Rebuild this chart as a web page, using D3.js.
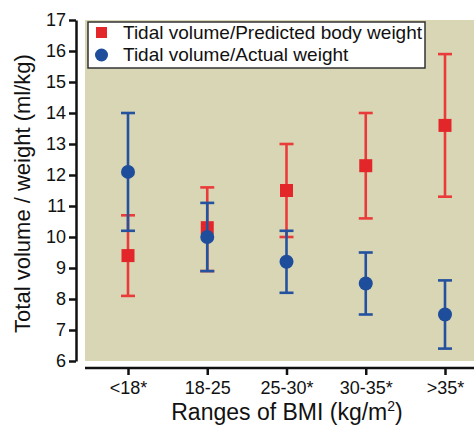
<!DOCTYPE html>
<html>
<head>
<meta charset="utf-8">
<script src="https://cdn.jsdelivr.net/npm/d3@7"></script>
<style>
  html, body { margin: 0; padding: 0; background: #fff; }
  svg { display: block; }
  text { font-family: 'Liberation Sans', Arial, sans-serif; fill: #111; }
</style>
</head>
<body>
<div id="chart"></div>
<script>
// ---- data ----
const categories = ['<18*', '18-25', '25-30*', '30-35*', '>35*'];

const predMean = [9.4, 10.3, 11.5, 12.3, 13.6];
const predLow  = [8.1, 8.9, 10.0, 10.6, 11.3];
const predHigh = [10.7, 11.6, 13.0, 14.0, 15.9];

const actMean = [12.1, 10.0, 9.2, 8.5, 7.5];
const actLow  = [10.2, 8.9, 8.2, 7.5, 6.4];
const actHigh = [14.0, 11.1, 10.2, 9.5, 8.6];

const yTicks = [6, 7, 8, 9, 10, 11, 12, 13, 14, 15, 16, 17];

const seriesNames = ['Tidal volume/Predicted body weight', 'Tidal volume/Actual weight'];

const W = 474, H = 426;
const RED = '#e3262a', RED_BAR = '#ea3b3b';
const BLUE = '#1d4d9b', BLUE_BAR = '#24529e';

const svg = d3.select('#chart').append('svg')
  .attr('width', W).attr('height', H);

const y = d3.scaleLinear().domain([6, 17]).range([361, 20]);
const x = d3.scalePoint().domain(categories).range([128, 445]);

// plot background
svg.append('rect')
  .attr('x', 85).attr('y', y(17))
  .attr('width', W - 85).attr('height', y(6) - y(17))
  .attr('fill', '#d9d6b6');

// y axis (offset to the left of the panel)
const yAxis = svg.append('g')
  .attr('transform', 'translate(76,0)')
  .call(d3.axisLeft(y).tickValues(yTicks).tickSize(7).tickSizeOuter(0).tickPadding(3));
yAxis.select('.domain').attr('stroke', '#111').attr('stroke-width', 2.5);
yAxis.selectAll('line').attr('stroke', '#111').attr('stroke-width', 2.5);
yAxis.selectAll('text').style('font-size', '18px').attr('fill', '#111');

// x axis (offset below the panel)
const xAxis = svg.append('g')
  .attr('transform', 'translate(0,368)')
  .call(d3.axisBottom(x).tickSize(7).tickSizeOuter(0).tickPadding(6));
xAxis.select('.domain').attr('d', `M85,0H${W}`).attr('stroke', '#111').attr('stroke-width', 2.5);
xAxis.selectAll('line').attr('stroke', '#111').attr('stroke-width', 2.5);
xAxis.selectAll('text').style('font-size', '18px').attr('fill', '#111');

// axis titles
svg.append('text')
  .attr('transform', `translate(30,${(y(6) + y(17)) / 2 + 3}) rotate(-90)`)
  .attr('text-anchor', 'middle')
  .style('font-size', '22px')
  .text('Total volume / weight (ml/kg)');

const xt = svg.append('text')
  .attr('x', 287).attr('y', 420)
  .attr('text-anchor', 'middle')
  .style('font-size', '23px');
xt.append('tspan').text('Ranges of BMI (kg/m');
xt.append('tspan').attr('dy', -9).style('font-size', '14px').text('2');
xt.append('tspan').attr('dy', 9).text(')');

// error bars + markers
function drawErrors(low, high, color) {
  const g = svg.append('g');
  categories.forEach((c, i) => {
    const cx = x(c);
    g.append('line')
      .attr('x1', cx).attr('x2', cx)
      .attr('y1', y(low[i])).attr('y2', y(high[i]))
      .attr('stroke', color).attr('stroke-width', 2.6);
    [low[i], high[i]].forEach(v => {
      g.append('line')
        .attr('x1', cx - 7).attr('x2', cx + 7)
        .attr('y1', y(v)).attr('y2', y(v))
        .attr('stroke', color).attr('stroke-width', 2.6);
    });
  });
}

drawErrors(predLow, predHigh, RED_BAR);
svg.append('g').selectAll('rect')
  .data(predMean)
  .join('rect')
  .attr('x', (d, i) => x(categories[i]) - 6.5)
  .attr('y', d => y(d) - 6.5)
  .attr('width', 13).attr('height', 13)
  .attr('fill', RED);

drawErrors(actLow, actHigh, BLUE_BAR);
svg.append('g').selectAll('circle')
  .data(actMean)
  .join('circle')
  .attr('cx', (d, i) => x(categories[i]))
  .attr('cy', d => y(d))
  .attr('r', 7)
  .attr('fill', BLUE);

// legend
const lg = svg.append('g');
lg.append('rect')
  .attr('x', 88).attr('y', 22).attr('width', 337).attr('height', 46)
  .attr('fill', '#fff').attr('stroke', '#333').attr('stroke-width', 1.5);
lg.append('rect')
  .attr('x', 96).attr('y', 27).attr('width', 11).attr('height', 11)
  .attr('fill', RED);
lg.append('circle')
  .attr('cx', 101.5).attr('cy', 55).attr('r', 6.5)
  .attr('fill', BLUE);
seriesNames.forEach((s, i) => {
  lg.append('text')
    .attr('x', 123).attr('y', 39 + i * 22)
    .style('font-size', '19px')
    .attr('textLength', i === 0 ? 299 : null)
    .text(s);
});
</script>
</body>
</html>
